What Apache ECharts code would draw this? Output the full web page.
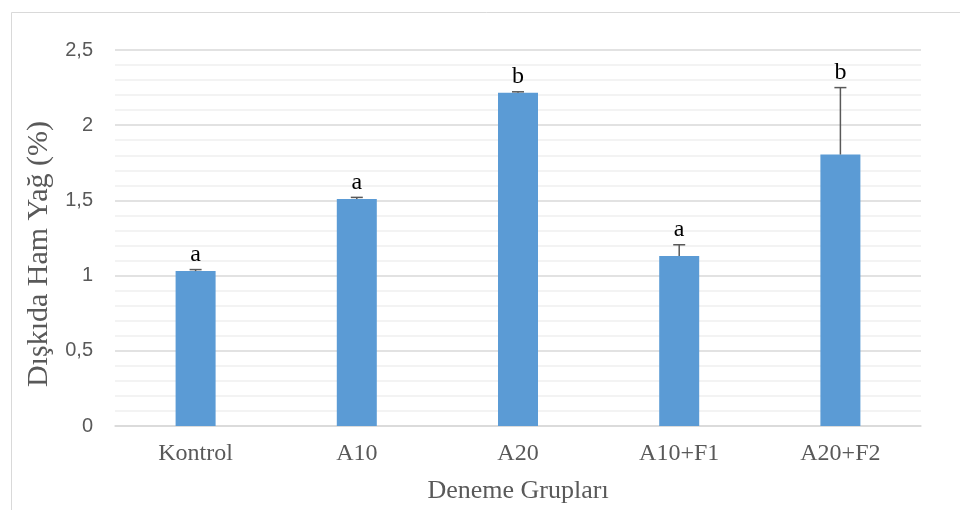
<!DOCTYPE html>
<html><head><meta charset="utf-8">
<script src="https://cdn.jsdelivr.net/npm/echarts@6/dist/echarts.min.js"></script>
<style>html,body{margin:0;padding:0;background:#fff}#c{width:960px;height:510px}</style>
</head><body><div id="c"></div>
<script>
var categories = ['Kontrol', 'A10', 'A20', 'A10+F1', 'A20+F2'];
var values = [1.03, 1.51, 2.215, 1.13, 1.805];
var errorTop = [1.04, 1.52, 2.222, 1.205, 2.25];
var letters = ['a', 'a', 'b', 'a', 'b'];
var yTicks = [0, 0.5, 1, 1.5, 2, 2.5];

var chart = echarts.init(document.getElementById('c'), null, {renderer: 'canvas'});
var errData = categories.map(function (c, i) { return [i, values[i], errorTop[i], letters[i]]; });

chart.setOption({
  animation: false,
  backgroundColor: '#fff',
  graphic: [{
    type: 'rect', left: 9, top: 10, z: -1,
    shape: {x: 0, y: 0, width: 960, height: 510},
    style: {fill: 'none', stroke: '#d9d9d9', lineWidth: 1}
  }],
  grid: {left: 115, right: 39, top: 50, bottom: 84},
  xAxis: {
    type: 'category', data: categories,
    axisLine: {lineStyle: {color: '#d9d9d9', width: 1.5}},
    axisTick: {show: false},
    axisLabel: {color: '#595959', fontFamily: 'Liberation Serif', fontSize: 24, margin: 16},
    name: 'Deneme Grupları', nameLocation: 'middle', nameGap: 52,
    nameTextStyle: {color: '#595959', fontFamily: 'Liberation Serif', fontSize: 26}
  },
  yAxis: {
    type: 'value', min: 0, max: 2.5, interval: 0.5,
    axisLine: {show: false}, axisTick: {show: false},
    axisLabel: {color: '#595959', fontFamily: 'Liberation Sans', fontSize: 20, margin: 22,
      formatter: function (v) { return String(v).replace('.', ','); }},
    splitLine: {lineStyle: {color: '#d9d9d9', width: 1.5}},
    minorTick: {show: false, splitNumber: 5},
    minorSplitLine: {show: true, lineStyle: {color: '#efefef', width: 1.5}},
    name: 'Dışkıda Ham Yağ (%)', nameLocation: 'middle', nameGap: 60,
    nameTextStyle: {color: '#595959', fontFamily: 'Liberation Serif', fontSize: 30, padding: [0, 32, 0, 0]}
  },
  series: [{
    type: 'bar', data: values, barWidth: 40,
    itemStyle: {color: '#5b9bd5'}
  }, {
    type: 'custom', data: errData, z: 10,
    renderItem: function (params, api) {
      var x = api.value(0);
      var base = api.coord([x, api.value(1)]);
      var top = api.coord([x, api.value(2)]);
      var half = 6;
      return {
        type: 'group',
        children: [
          {type: 'line', shape: {x1: base[0], y1: base[1], x2: top[0], y2: top[1]},
            style: {stroke: '#595959', lineWidth: 1.5}},
          {type: 'line', shape: {x1: top[0] - half, y1: top[1], x2: top[0] + half, y2: top[1]},
            style: {stroke: '#595959', lineWidth: 1.5}},
          {type: 'text', x: top[0], y: top[1] - 3,
            style: {text: api.value(3), fill: '#000', font: '24px "Liberation Serif"',
              textAlign: 'center', textVerticalAlign: 'bottom'}}
        ]
      };
    }
  }]
});
</script>
</body></html>
